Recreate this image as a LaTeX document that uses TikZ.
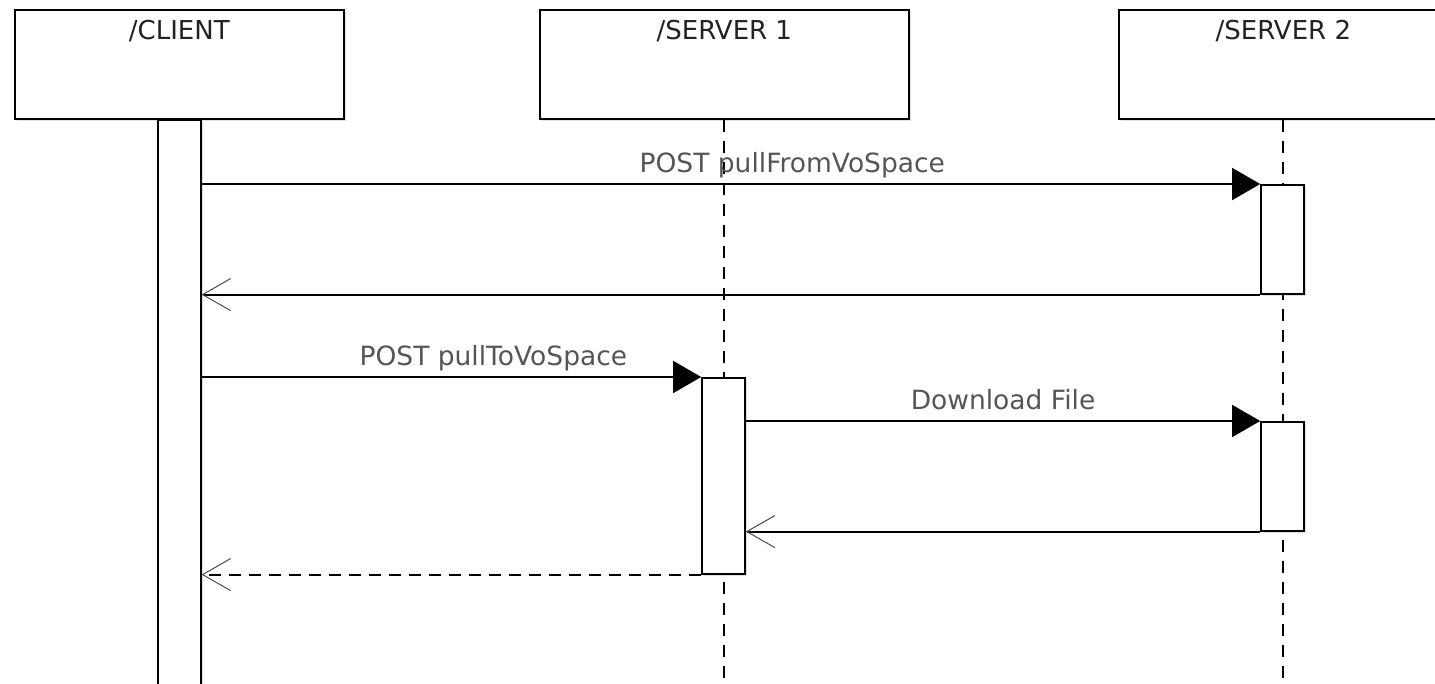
\documentclass[tikz,border=0pt]{standalone}
\usepackage{fontspec}
\setmainfont{DejaVu Sans}
\usetikzlibrary{arrows.meta,shadows}
\definecolor{headtext}{HTML}{222222}
\definecolor{msgtext}{HTML}{555555}
\begin{document}
\begin{tikzpicture}[x=1pt,y=-1pt,
  boxshadow/.style={drop shadow={shadow xshift=2pt,shadow yshift=-2pt,opacity=0.25}},
  actor/.style={draw,line width=1.6pt,fill=white,inner sep=0pt,
    minimum width=329pt,minimum height=109pt,anchor=north west,boxshadow},
  title/.style={anchor=base,inner sep=0pt,text=headtext,
    font=\fontsize{26pt}{30pt}\selectfont},
  bar/.style={draw,line width=1.6pt,fill=white,inner sep=0pt,
    minimum width=43pt,anchor=north,boxshadow},
  lifeline/.style={line width=1.8pt,dash pattern=on 12pt off 9pt},
  call/.style={line width=1.4pt,-{Triangle[length=28pt,width=32pt]}},
  reply/.style={line width=1.9pt,-{Straight Barb[length=28pt,width=32pt,line width=1pt,color=black!70]}},
  async/.style={reply,dash pattern=on 12pt off 8pt},
  msglabel/.style={anchor=base,yshift=12pt,inner sep=0pt,text=msgtext,
    font=\fontsize{26.5pt}{30pt}\selectfont}]
\useasboundingbox (0,0) rectangle (1435,683);
\clip (0,0) rectangle (1435,683);

% participants
\node[actor] (client) at (14,9) {};
\node[actor,minimum width=369pt] (srv1) at (539,9) {};
\node[actor] (srv2) at (1118,9) {};
\node[title] (clientT) at ([yshift=-30pt]client.north) {/CLIENT};
\node[title] (srv1T) at ([yshift=-30pt]srv1.north) {/SERVER 1};
\node[title] (srv2T) at ([yshift=-30pt]srv2.north) {/SERVER 2};

% lifelines
\coordinate (s1end) at (724,700);
\coordinate (s2end) at (1283,700);
\draw[lifeline] (srv1.south -| s1end) -- (s1end);
\draw[lifeline] (srv2.south -| s2end) -- (s2end);

% activation bars
\node[bar,minimum height=582pt] (cbar) at (client.south) {};
\node[bar,minimum height=196pt] (s1a) at (723.5,377) {};
\node[bar,minimum height=109pt] (s2a) at (1282.5,184) {};
\node[bar,minimum height=109pt] (s2b) at (1282.5,421) {};

% messages
\draw[call] (cbar.east |- s2a.north west) --
  node[msglabel,pos=0.558] (m1) {POST pullFromVoSpace} (s2a.north west);
\draw[reply] (s2a.south west) -- (cbar.east |- s2a.south west);
\draw[call] (cbar.east |- s1a.north west) --
  node[msglabel,pos=0.584] (m2) {POST pullToVoSpace} (s1a.north west);
\draw[call] (s1a.east |- s2b.north west) --
  node[msglabel,pos=0.5] (m3) {Download File} (s2b.north west);
\draw[reply] (s2b.south west) -- (s1a.east |- s2b.south west);
\draw[async] (s1a.south west) -- (cbar.east |- s1a.south west);
\end{tikzpicture}
\end{document}
